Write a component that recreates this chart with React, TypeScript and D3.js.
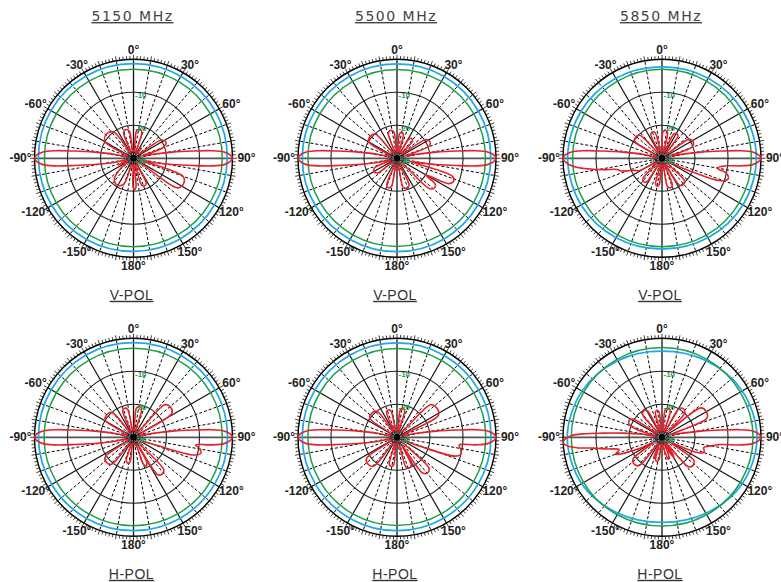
import React from "react";
import * as d3 from "d3";

// ---------- data ----------
const FREQUENCIES = ["5150 MHz", "5500 MHz", "5850 MHz"];
const POLARIZATIONS = ["V-POL", "H-POL"];
const ANGLE_LABELS = ["0°", "30°", "60°", "90°", "120°", "150°", "180°", "-150°", "-120°", "-90°", "-60°", "-30°"];
const LABEL_ANGLES = [0, 30, 60, 90, 120, 150, 180, -150, -120, -90, -60, -30];
const RING_DB = [-10, -20];
const RING_LABEL_DB = [-10, -20, -30];
const RING_LABELS = ["-10", "-20", "-30"];
const CIRCLE_ANGLES = [0, 30, 60, 90, 120, 150, 180, 210, 240, 270, 300, 330];

// red pattern: [angle deg, dB]
const RED_5150_V: [number, number][] = [
  [-179, -21.5], [-174, -28], [-166, -28], [-159, -21.5], [-148, -20.5], [-137, -21.5], [-128, -25], [-121, -28], [-114, -25], [-108, -28],
  [-103, -27], [-102, -24], [-99, -18], [-97, -12], [-95.5, -6], [-94, -2.5], [-92, -0.7], [-90, 0], [-88, -0.7], [-86, -2.5], [-84.5, -6],
  [-83, -12], [-81, -18], [-78, -24], [-77, -27],
  [-68, -28], [-60, -20], [-48, -19], [-37, -20], [-30, -28], [-26, -28], [-21, -21.6], [-15, -21], [-9, -21.6], [-4, -28],
  [3, -28], [6.5, -21.6], [12, -21], [17.5, -21.6], [23, -28], [30, -28], [35, -26], [40, -28], [50, -28], [57, -19.8], [64, -19], [70, -20.5], [75, -27],
  [78, -24], [81, -18], [83, -12], [84.5, -6], [86, -2.5], [88, -0.7], [90, 0], [92, -0.7], [94, -2.5], [95.5, -6], [97, -12], [99, -18],
  [102, -24], [104, -28], [110, -14], [117, -13], [124, -14], [130, -28], [148, -28], [153, -21.5], [158, -21], [163, -21.5], [168, -28],
  [172, -28], [175, -21.3], [178, -20.5],
];
const RED_5500_V: [number, number][] = [
  [-173, -28], [-169, -21.3], [-164, -20.7], [-159, -21.3], [-154, -28], [-134, -28], [-127, -22.6], [-120, -22], [-113, -22.6], [-107, -28],
  [-103, -27], [-102, -24], [-99, -18], [-97, -12], [-95.5, -6], [-94, -2.5], [-92, -0.7], [-90, 0], [-88, -0.7], [-86, -2.5], [-84.5, -6],
  [-83, -12], [-81, -18], [-78, -24], [-77, -27],
  [-70, -28], [-60, -20.2], [-51, -19.5], [-42, -20.2], [-34, -28], [-24, -28], [-19, -21.9], [-13, -21.3], [-7, -21.9], [-2, -28],
  [2, -28], [6, -22.5], [10.5, -22], [15, -22.5], [20, -28], [27, -28], [32, -23], [37, -22.5], [42, -23], [47, -28], [51, -28],
  [57, -19.5], [63, -18.8], [69, -19.5], [75, -27],
  [78, -24], [81, -18], [83, -12], [84.5, -6], [86, -2.5], [88, -0.7], [90, 0], [92, -0.7], [94, -2.5], [95.5, -6], [97, -12], [99, -18],
  [102, -24], [104, -26], [108, -12.3], [112, -11.5], [116, -12.5], [120, -20], [124, -16], [128, -15.5], [133, -16.5], [139, -28],
  [151, -28], [156, -21], [162, -20.5], [168, -21], [173, -28],
];
const RED_5850_V: [number, number][] = [
  [-176, -28], [-174, -22], [-170, -21.4], [-166, -22], [-162, -28], [-153, -28], [-147, -21.5], [-142, -21], [-137, -21.5], [-131, -28],
  [-124, -27], [-118, -22], [-114, -21], [-110, -19], [-107, -17], [-104, -16], [-101, -12], [-98.5, -8], [-96, -4], [-93, -1.2], [-90, 0],
  [-88, -0.7], [-86, -2.5], [-84.5, -6], [-83, -12], [-81, -18], [-78, -24], [-76, -28],
  [-66, -28], [-58, -20.3], [-51, -19.7], [-44, -20.3], [-36, -28], [-30, -28], [-25, -22], [-20, -21.5], [-15, -22], [-10, -28],
  [-2, -28], [2, -22], [7, -21.5], [12, -22], [17, -28], [21, -28], [26, -21.8], [31, -21.3], [36, -21.8], [41, -28], [48, -28],
  [55, -20], [62, -19.3], [69, -20.2], [75, -27],
  [78, -24], [81, -18], [83, -12], [84.5, -6], [86, -2.5], [88, -0.7], [90, 0], [92, -0.7], [94, -2.5], [95.5, -6], [97, -11], [100, -13],
  [103, -10], [107, -9], [111, -11], [115, -22], [122, -28], [130, -28], [135, -20.3], [141, -19.7], [147, -20.3], [152, -28], [156, -28],
  [159, -21.3], [164, -20.7], [169, -21.3], [173, -28],
];
const RED_5150_H: [number, number][] = [
  [-175, -28], [-172, -22.5], [-168, -22], [-163, -22.5], [-158, -28], [-149, -28], [-141, -19.5], [-133, -18.8], [-125, -19.5], [-117, -28], [-108, -28],
  [-103, -27], [-102, -24], [-99, -18], [-97, -12], [-95.5, -6], [-94, -2.5], [-92, -0.7], [-90, 0], [-88, -0.7], [-86, -2.5], [-84.5, -6],
  [-83, -12], [-81, -18], [-78, -24], [-77, -27],
  [-68, -28], [-59, -20], [-50, -19.4], [-41, -20], [-34, -28], [-28, -28], [-22, -21.3], [-17, -20.8], [-12, -21.3], [-6, -28],
  [1, -28], [6, -21], [11, -20.5], [16, -21], [21, -28], [36, -28], [44, -16.3], [51, -15.5], [58, -16.3], [66, -28], [72, -28],
  [78, -24], [81, -18], [83, -12], [84.5, -6], [86, -2.5], [88, -0.7], [90, 0], [92, -0.7], [94, -2.5], [95.5, -6], [97, -11],
  [100, -9.5], [103, -9], [106, -10.5], [110, -24], [122, -28], [132, -28], [137, -16.5], [142, -15.8], [147, -16.5], [150, -27],
  [152, -21.5], [156, -20.5], [160, -21.5], [165, -28],
];
const RED_5500_H: [number, number][] = [
  [-176, -28], [-173, -21.5], [-169, -21], [-164, -21.5], [-159, -28], [-149, -28], [-141, -18.7], [-133, -18], [-125, -18.7], [-117, -28], [-108, -28],
  [-103, -27], [-102, -24], [-99, -18], [-97, -12], [-95.5, -6], [-94, -2.5], [-92, -0.7], [-90, 0], [-88, -0.7], [-86, -2.5], [-84.5, -6],
  [-83, -12], [-81, -18], [-78, -24], [-77, -27],
  [-64, -28], [-55, -20], [-46.5, -19.4], [-38, -20], [-32, -28], [-28, -28], [-23, -21.8], [-18, -21.3], [-13, -21.8], [-8, -28],
  [2, -28], [7, -21.5], [11.5, -21], [16, -21.5], [21, -28], [38, -28], [46, -15.8], [54, -15], [62, -15.8], [69, -28], [73, -28],
  [78, -24], [81, -18], [83, -12], [84.5, -6], [86, -2.5], [88, -0.7], [90, 0], [92, -0.7], [94, -2.5], [95.5, -6], [97, -11],
  [101, -10.3], [105, -10], [108, -11.5], [112, -24], [122, -28], [129, -28], [134, -16.5], [139, -15.8], [144, -16.5], [148, -27],
  [153, -20.5], [158, -20], [163, -20.5], [168, -28],
];
const RED_5850_H: [number, number][] = [
  [-176, -28], [-172, -23], [-168, -22.5], [-164, -23], [-161, -27], [-158, -23], [-155, -27], [-148, -28], [-141, -19], [-134, -18.3],
  [-127, -19], [-121, -27], [-116, -22], [-110, -15], [-106, -16.5], [-102, -13], [-99, -9], [-97, -4], [-95, -1], [-93, 0], [-91, -0.7],
  [-89, -2.5], [-87.5, -6], [-86, -12], [-84, -18], [-81, -24], [-79, -28], [-73, -22], [-68, -19.2], [-63, -18.8], [-58, -19.5], [-52, -28],
  [-46, -28], [-40, -20.8], [-34.5, -20.3], [-29, -20.8], [-24, -28], [-19, -28], [-15, -22.2], [-11, -21.7], [-7, -22.2], [-3, -28],
  [3, -28], [7, -21.5], [12, -21], [17, -21.5], [22, -28], [26, -28], [31, -19.8], [37, -19.2], [43, -19.8], [48, -27], [53, -15.2], [60, -14.5],
  [67, -15.2], [73, -27], [78, -24], [81, -18], [83, -12], [84.5, -6], [86, -2.5], [88, -0.7], [90, 0], [92, -0.7], [94, -2.5], [95.5, -6],
  [97, -12], [100, -15], [104, -17], [108, -16.5], [111, -16.8], [115, -21], [121, -27], [126, -18], [132, -17.3], [138, -18],
  [143, -28], [147, -24], [150, -23], [153, -25], [157, -28], [160, -24], [164, -23], [168, -25],
];

// reference omni patterns (dB at CIRCLE_ANGLES)
const BLUE_5150_V = [-1.3, -1.3, -1.4, -1.6, -1.7, -1.8, -1.8, -1.6, -1.4, -1.2, -1.1, -1.2];
const GREEN_5150_V = [-3.0, -3.0, -3.1, -3.1, -3.2, -3.2, -3.2, -3.1, -3.0, -3.0, -3.0, -3.0];
const BLUE_5500_V = [-1.4, -1.4, -1.5, -1.6, -1.7, -1.7, -1.7, -1.6, -1.4, -1.3, -1.3, -1.3];
const GREEN_5500_V = [-3.1, -3.1, -3.1, -3.2, -3.2, -3.3, -3.3, -3.2, -3.1, -3.0, -3.0, -3.1];
const BLUE_5850_V = [-2.3, -2.0, -1.6, -1.4, -1.7, -2.2, -2.5, -2.2, -1.7, -1.4, -1.6, -2.0];
const GREEN_5850_V = [-3.0, -3.0, -3.0, -2.9, -3.0, -3.1, -3.2, -3.1, -3.0, -2.9, -2.9, -3.0];
const BLUE_5150_H = [-1.3, -1.3, -1.4, -1.5, -1.6, -1.7, -1.7, -1.6, -1.4, -1.2, -1.2, -1.2];
const GREEN_5150_H = [-3.0, -3.0, -3.0, -3.1, -3.1, -3.2, -3.2, -3.1, -3.0, -2.9, -3.0, -3.0];
const BLUE_5500_H = [-1.4, -1.4, -1.4, -1.5, -1.6, -1.7, -1.7, -1.6, -1.5, -1.3, -1.3, -1.3];
const GREEN_5500_H = [-3.1, -3.1, -3.1, -3.1, -3.2, -3.2, -3.3, -3.2, -3.1, -3.0, -3.0, -3.1];
const BLUE_5850_H = [-3.9, -3.2, -1.9, -1.2, -1.9, -3.4, -4.2, -3.4, -1.9, -1.3, -2.0, -3.2];
const GREEN_5850_H = [-2.8, -2.7, -2.6, -2.4, -2.6, -2.9, -3.1, -2.9, -2.6, -2.5, -2.6, -2.7];

const RED = [[RED_5150_V, RED_5500_V, RED_5850_V], [RED_5150_H, RED_5500_H, RED_5850_H]];
const BLUE = [[BLUE_5150_V, BLUE_5500_V, BLUE_5850_V], [BLUE_5150_H, BLUE_5500_H, BLUE_5850_H]];
const GREEN = [[GREEN_5150_V, GREEN_5500_V, GREEN_5850_V], [GREEN_5150_H, GREEN_5500_H, GREEN_5850_H]];

// ---------- layout ----------
const W = 781;
const H = 582;
const COL_X = [133.5, 397, 662];
const ROW_Y = [158.3, 437.3];
const R = 99;

const rScale = d3.scaleLinear().domain([-30, 0]).range([0, R]).clamp(true);
const rad = (deg: number) => (deg * Math.PI) / 180;

const redLine = d3
  .lineRadial<[number, number]>()
  .angle((d) => rad(d[0]))
  .radius((d) => rScale(d[1]))
  .curve(d3.curveCatmullRomClosed.alpha(0.5));

const circLine = d3
  .lineRadial<number>()
  .angle((_, i) => rad(CIRCLE_ANGLES[i]))
  .radius((d) => rScale(d))
  .curve(d3.curveCatmullRomClosed.alpha(0.5));

const ticks2 = d3.range(0, 360, 2);
const spokes10 = d3.range(0, 360, 10);

function Polar({ cx, cy, red, blue, green }: { cx: number; cy: number; red: [number, number][]; blue: number[]; green: number[] }) {
  return (
    <g transform={`translate(${cx},${cy})`}>
      {spokes10
        .filter((a) => a % 30 !== 0)
        .map((a) => (
          <line
            key={"d" + a}
            x1={0}
            y1={0}
            x2={R * Math.sin(rad(a))}
            y2={-R * Math.cos(rad(a))}
            stroke="#000"
            strokeWidth={1}
            strokeDasharray="3,2"
          />
        ))}
      {spokes10
        .filter((a) => a % 30 === 0 && a % 90 !== 0)
        .map((a) => (
          <line key={"s" + a} x1={0} y1={0} x2={R * Math.sin(rad(a))} y2={-R * Math.cos(rad(a))} stroke="#111" strokeWidth={1.2} />
        ))}
      <line x1={0} y1={-R} x2={0} y2={R} stroke="#111" strokeWidth={1.3} />
      <line x1={-R} y1={0} x2={R} y2={0} stroke="#555" strokeWidth={1.8} />
      {RING_DB.map((db) => (
        <circle key={db} r={rScale(db)} fill="none" stroke="#222" strokeWidth={1.1} />
      ))}
      {[4.5, 6.5, 9].map((r) => (
        <circle key={r} r={r} fill="none" stroke="#333" strokeWidth={0.8} />
      ))}
      <circle r={3.2} fill="#000" />
      <circle r={R} fill="none" stroke="#000" strokeWidth={1.4} />
      {ticks2.map((a) => {
        const len = a % 10 === 0 ? 4.5 : 3.3;
        const s = Math.sin(rad(a));
        const c = Math.cos(rad(a));
        return <line key={"t" + a} x1={R * s} y1={-R * c} x2={(R + len) * s} y2={-(R + len) * c} stroke="#111" strokeWidth={0.8} />;
      })}
      <path d={circLine(blue) || ""} fill="none" stroke="#1ea8e6" strokeWidth={1.7} />
      <path d={circLine(green) || ""} fill="none" stroke="#1d9e4e" strokeWidth={1.5} />
      <path d={redLine(red) || ""} fill="none" stroke="#e8202a" strokeWidth={1.6} />
      {RING_LABELS.map((t, i) => {
        const db = RING_LABEL_DB[i];
        const y = db === -30 ? 3.5 : -(rScale(db) - 3);
        return (
          <text
            key={t}
            x={1.5}
            y={y}
            dominantBaseline="central"
            fontFamily="Liberation Sans, Arial, sans-serif"
            fontSize={8}
            fontWeight="bold"
            fill="#1d9e4e"
          >
            {t}
          </text>
        );
      })}
      {LABEL_ANGLES.map((a, i) => (
        <text
          key={"l" + a}
          x={113 * Math.sin(rad(a))}
          y={-108 * Math.cos(rad(a))}
          textAnchor="middle"
          dominantBaseline="central"
          fontFamily="Liberation Sans, Arial, sans-serif"
          fontWeight="bold"
          fontSize={12}
          fill="#222"
        >
          {ANGLE_LABELS[i]}
        </text>
      ))}
    </g>
  );
}

export default function App() {
  return (
    <svg
      width={W}
      height={H}
      viewBox={`0 0 ${W} ${H}`}
      style={{ position: "absolute", left: 0, top: 0, background: "#fff", display: "block" }}
    >
      <rect width={W} height={H} fill="#fff" />
      {FREQUENCIES.map((f, c) => (
        <text
          key={f}
          x={COL_X[c] - 1}
          y={21}
          textAnchor="middle"
          fontFamily="DejaVu Sans, sans-serif"
          fontSize={14}
          letterSpacing={1.5}
          fill="#444"
          style={{ textDecoration: "underline" }}
        >
          {f}
        </text>
      ))}
      {POLARIZATIONS.map((p, r) =>
        COL_X.map((x, c) => (
          <g key={p + c}>
            <Polar cx={x} cy={ROW_Y[r]} red={RED[r][c]} blue={BLUE[r][c]} green={GREEN[r][c]} />
            <text
              x={x - 2}
              y={ROW_Y[r] + 141.5}
              textAnchor="middle"
              fontFamily="Liberation Sans, Arial, sans-serif"
              fontSize={14}
              letterSpacing={0.5}
              fill="#333"
              style={{ textDecoration: "underline" }}
            >
              {p}
            </text>
          </g>
        ))
      )}
    </svg>
  );
}
